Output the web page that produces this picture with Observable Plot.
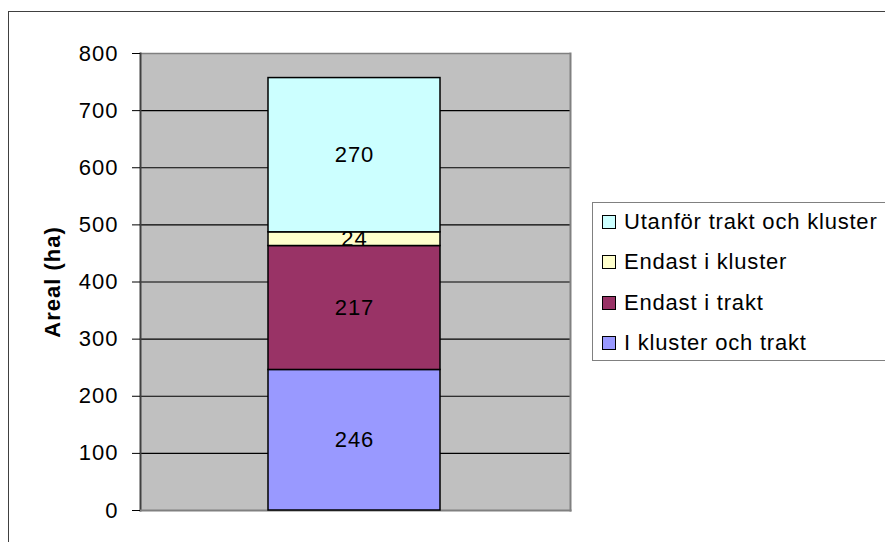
<!DOCTYPE html>
<html>
<head>
<meta charset="utf-8">
<script src="https://cdn.jsdelivr.net/npm/d3@7"></script>
<script src="https://cdn.jsdelivr.net/npm/@observablehq/plot@0.6"></script>
<style>
  html, body { margin: 0; padding: 0; background: #fff; }
  #wrap { position: relative; width: 885px; height: 542px; overflow: hidden; font-family: "Liberation Sans", Arial, sans-serif; }
  #border { position: absolute; left: 8px; top: 11px; width: 1000px; height: 1000px; border: 1.5px solid #404040; box-sizing: border-box; }
  #chart { position: absolute; left: 0; top: 0; }
  #legend { position: absolute; left: 592px; top: 202px; width: 400px; height: 159px; border: 1.5px solid #808080; box-sizing: border-box; background: #fff; }
  .row { position: absolute; left: 9px; height: 24px; display: flex; align-items: center; font-size: 22px; letter-spacing: 0.8px; color: #000; white-space: nowrap; }
  .sw { width: 12px; height: 12px; border: 1.5px solid #000; margin-right: 8px; flex: none; }
</style>
</head>
<body>
<div id="wrap">
  <div id="border"></div>
  <div id="chart"></div>
  <div id="legend"></div>
</div>
<script>
const category = "Total";
const seriesNames = ["I kluster och trakt", "Endast i trakt", "Endast i kluster", "Utanför trakt och kluster"];
const seriesValues = [246, 217, 24, 270];
const seriesColors = ["#9999FF", "#993366", "#FFFFCC", "#CCFFFF"];
const yTicks = [0, 100, 200, 300, 400, 500, 600, 700, 800];
const yLabel = "Areal (ha)";

(function () {
const data = seriesNames.map((s, i) => ({cat: category, series: s, value: seriesValues[i]}));

const chart = Plot.plot({
  width: 885,
  height: 542,
  marginTop: 53,
  marginBottom: 32,
  marginLeft: 140,
  marginRight: 315,
  style: {fontFamily: "Liberation Sans, Arial, sans-serif", background: "transparent"},
  x: {domain: [category], padding: 0.43, range: [138, 570], axis: null},
  y: {domain: [0, 800], axis: null},
  color: {domain: seriesNames, range: seriesColors},
  marks: [
    Plot.frame({fill: "#C0C0C0", stroke: null}),
    Plot.ruleY(yTicks.filter(d => d > 0 && d < 800), {stroke: "#000", strokeWidth: 1.2}),
    Plot.ruleY([800], {stroke: "#808080", strokeWidth: 1.5}),
    Plot.frame({anchor: "left", stroke: "#404040", strokeWidth: 2}),
    Plot.frame({anchor: "bottom", stroke: "#808080", strokeWidth: 2}),
    Plot.frame({anchor: "right", stroke: "#808080", strokeWidth: 2}),
    Plot.barY(data, {x: "cat", y: "value", fill: "series", stroke: "#000", strokeWidth: 1.5}),
    Plot.text(data, Plot.stackY({x: "cat", y: "value", text: d => String(d.value), fontSize: 22, fill: "#000"})),
    Plot.axisY({ticks: yTicks, tickSize: 8, tickPadding: 14, fontSize: 22, tickFormat: d => String(d), label: null, stroke: "#000"}),
    Plot.text([yLabel], {frameAnchor: "left", textAnchor: "middle", dx: -88, rotate: -90, fontWeight: "bold", fontSize: 22, fill: "#000"})
  ]
});
chart.querySelectorAll("text").forEach(t => t.setAttribute("letter-spacing", "1"));
document.getElementById("chart").appendChild(chart);

// legend
const legend = document.getElementById("legend");
const order = seriesNames.map((s, i) => i).reverse();
order.forEach((i, k) => {
  const row = document.createElement("div");
  row.className = "row";
  row.style.top = (7 + k * 40.3) + "px";
  const sw = document.createElement("div");
  sw.className = "sw";
  sw.style.background = seriesColors[i];
  const tx = document.createElement("span");
  tx.textContent = seriesNames[i];
  row.appendChild(sw); row.appendChild(tx);
  legend.appendChild(row);
});
})();
</script>
</body>
</html>
